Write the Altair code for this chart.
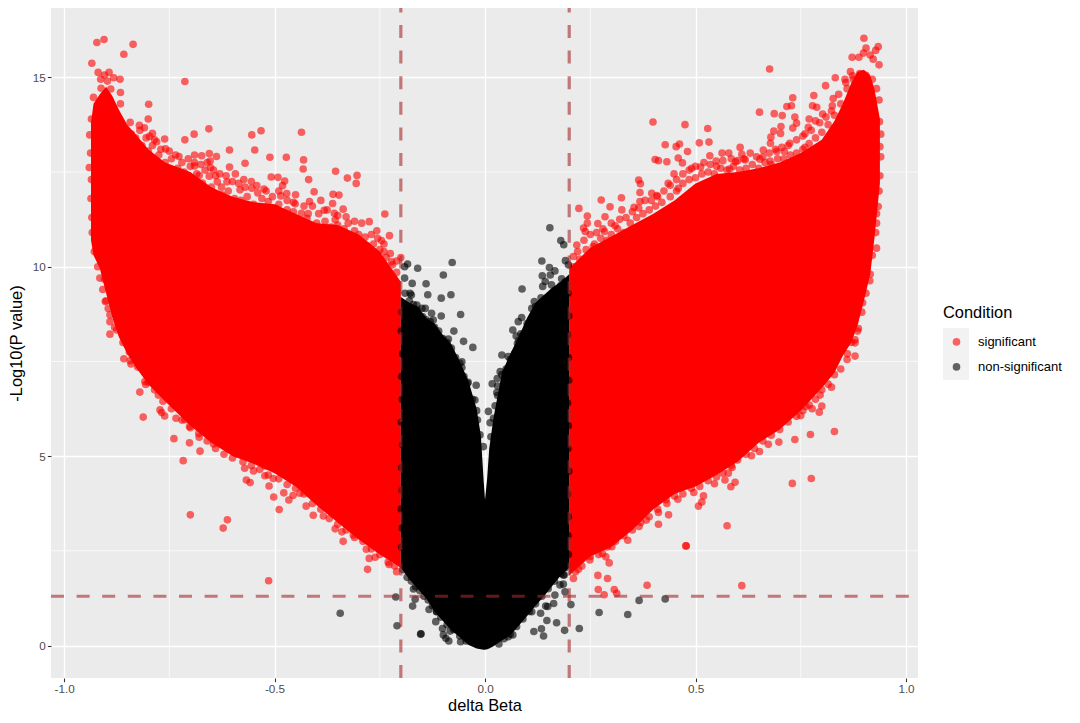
import altair as alt
import pandas as pd

X_DOMAIN = [-1.031, 1.0285]
Y_DOMAIN = [-0.858, 16.83]
x_ticks = [-1.0, -0.5, 0.0, 0.5, 1.0]
y_ticks = [0, 5, 10, 15]
x_minor = [-0.75, -0.25, 0.25, 0.75]
y_minor = [2.5, 7.5, 12.5]
v_cuts = [-0.2, 0.2]
h_cut = [1.3]

# Dense bodies of the cloud: outline
left_x = [-0.936,-0.93,-0.915,-0.90,-0.885,-0.87,-0.85,-0.83,-0.80,-0.76,-0.70,-0.65,-0.60,-0.55,-0.50,-0.45,-0.40,-0.35,-0.30,-0.25,-0.20]
left_hi = [13.8,14.3,14.55,14.75,14.5,14.15,13.75,13.5,13.1,12.75,12.5,12.1,11.85,11.7,11.65,11.4,11.15,11.1,10.85,10.4,9.6]
left_lo = [10.7,10.3,9.95,9.3,8.65,8.15,7.7,7.35,6.9,6.45,5.8,5.35,5.0,4.8,4.55,4.2,3.7,3.25,2.8,2.4,2.05]

right_x = [0.20,0.25,0.30,0.35,0.40,0.45,0.50,0.55,0.60,0.65,0.70,0.75,0.80,0.83,0.85,0.87,0.885,0.90,0.915,0.925,0.938]
right_hi = [9.95,10.5,10.8,11.1,11.4,11.75,12.2,12.45,12.5,12.6,12.75,13.0,13.35,13.85,14.3,14.85,15.15,15.2,15.05,14.7,13.9]
right_lo = [1.85,2.35,2.6,3.05,3.6,4.0,4.2,4.5,4.85,5.35,5.7,6.2,6.8,7.2,7.65,8.0,8.45,9.1,9.8,10.75,12.2]

mid_x = [-0.20,-0.18,-0.16,-0.14,-0.12,-0.10,-0.08,-0.06,-0.04,-0.02,-0.01,-0.003,0.0,0.005,0.01,0.02,0.04,0.06,0.08,0.10,0.12,0.14,0.16,0.18,0.20]
mid_hi = [9.2,9.05,8.95,8.65,8.5,8.2,7.95,7.5,7.0,6.25,5.55,4.3,3.85,4.4,5.2,6.0,7.2,7.7,8.15,8.65,9.05,9.25,9.45,9.6,9.8]
mid_lo = [2.05,1.75,1.5,1.25,0.9,0.65,0.4,0.22,0.02,-0.08,-0.1,-0.11,-0.11,-0.1,-0.08,-0.02,0.13,0.27,0.52,0.78,1.05,1.3,1.58,1.85,2.05]

# Individually visible points
red_left = [(-0.905,16.00),(-0.922,15.92),(-0.836,15.87),(-0.858,15.61),(-0.934,15.37),(-0.713,14.89),(-0.919,15.13),(-0.893,15.13),(-0.904,15.06),(-0.882,14.99),(-0.867,14.95),(-0.913,14.95),(-0.897,14.90),(-0.912,14.71),(-0.889,14.69),(-0.866,14.60),(-0.930,14.47),(-0.799,14.29),(-0.800,13.90),(-0.866,14.30),(-0.843,13.81),(-0.821,13.73),(-0.809,13.67),(-0.790,13.52),(-0.797,13.44),(-0.761,13.37),(-0.780,13.30),(-0.759,13.11),(-0.713,13.35),(-0.691,13.50),(-0.656,13.64),(-0.554,13.48),(-0.532,13.59),(-0.436,13.55),(-0.607,13.08),(-0.547,13.08),(-0.511,12.89),(-0.472,12.89),(-0.431,12.82),(-0.432,12.58),(-0.355,12.52),(-0.304,12.41),(-0.327,12.34),(-0.306,12.20),(-0.419,12.30),(-0.570,12.73),(-0.607,12.63),(-0.593,12.45),(-0.690,12.95),(-0.673,12.93),(-0.655,12.99),(-0.638,12.91),(-0.652,12.62),(-0.653,12.79),(-0.727,12.91),(-0.690,12.66),(-0.655,12.39),(-0.679,12.41),(-0.636,12.24),(-0.671,12.21),(-0.613,12.24),(-0.573,12.30),(-0.508,12.37),(-0.492,12.36),(-0.476,12.26),(-0.481,12.14),(-0.542,12.14),(-0.554,12.07),(-0.582,12.03),(-0.626,12.10),(-0.520,12.00),(-0.471,11.93),(-0.406,11.98),(-0.361,11.91),(-0.347,11.89),(-0.417,11.72),(-0.390,11.75),(-0.362,11.67),(-0.451,11.66),(-0.515,11.72),(-0.485,11.87),(-0.337,11.52),(-0.238,11.39),(-0.382,11.49),(-0.358,11.41),(-0.330,11.32),(-0.423,11.28),(-0.436,11.41),(-0.455,11.45),(-0.497,11.54),(-0.275,11.19),(-0.293,11.15),(-0.257,10.95),(-0.227,10.82),(-0.285,10.78),(-0.246,10.69),(-0.289,10.53),(-0.240,10.40),(-0.200,10.24),(-0.222,10.13),(-0.33,10.80),(-0.388,10.97),(-0.356,11.24),
 (-0.939,13.48),(-0.940,12.62),(-0.922,10.49),(-0.904,9.67),(-0.902,9.08),(-0.891,8.73),(-0.891,8.55),(-0.891,8.22),(-0.875,8.33),
 (-0.858,7.57),(-0.843,7.52),(-0.841,7.43),(-0.820,6.69),(-0.808,6.97),(-0.806,6.89),(-0.792,6.99),(-0.776,6.61),(-0.812,6.03),(-0.772,6.22),(-0.768,6.15),(-0.761,6.06),(-0.739,5.46),(-0.702,5.35),(-0.677,5.13),(-0.717,4.88),(-0.734,6.0),(-0.713,5.96),(-0.702,5.78),(-0.679,5.50),(-0.645,5.32),(-0.610,5.23),(-0.590,5.06),(-0.571,4.68),(-0.550,4.61),(-0.567,4.37),(-0.558,4.30),(-0.523,4.74),(-0.523,4.48),(-0.503,4.41),(-0.513,4.21),(-0.502,3.92),(-0.478,4.03),(-0.456,3.96),(-0.466,3.84),(-0.489,3.59),(-0.440,4.02),(-0.451,4.37),(-0.425,3.68),(-0.408,3.44),(-0.384,3.42),(-0.356,3.08),(-0.340,3.00),(-0.337,2.75),(-0.313,2.92),(-0.282,2.54),(-0.275,2.30),(-0.261,2.33),(-0.279,2.01),(-0.228,2.14),(-0.210,1.95),(-0.700,3.45),(-0.612,3.32),(-0.622,3.10),(-0.514,1.71)]

red_left_fringe = [(-0.84,13.5),(-0.83,13.4),(-0.815,13.2),(-0.80,13.05),(-0.79,13.2),(-0.775,12.95),(-0.76,12.75),(-0.745,12.85),(-0.73,12.6),(-0.715,12.5),(-0.70,12.65),(-0.685,12.45),(-0.665,12.55),(-0.65,12.1),(-0.64,12.4),(-0.625,11.9),(-0.61,12.0),(-0.595,11.8),(-0.58,11.75),(-0.565,11.85),(-0.55,11.65),(-0.53,11.8),(-0.51,11.55),(-0.49,11.65),(-0.47,11.5),(-0.455,11.7),(-0.44,11.2),(-0.42,11.4),(-0.40,11.15),(-0.38,11.2),(-0.365,11.05),(-0.35,11.1),(-0.335,11.0),(-0.31,10.95),(-0.30,10.85),(-0.28,10.55),(-0.265,10.6),(-0.25,10.45),(-0.235,10.25),(-0.22,10.05),(-0.21,9.85),
 (-0.82,13.6),(-0.805,13.4),(-0.785,13.35),(-0.77,13.1),(-0.75,13.05),(-0.735,12.95),(-0.72,12.75),(-0.705,12.85),(-0.69,12.75),(-0.675,12.7),(-0.66,12.75),(-0.645,12.55),(-0.63,12.45),(-0.615,12.4),(-0.60,12.25),(-0.585,12.2),(-0.57,12.1),(-0.555,12.25),(-0.54,11.95),(-0.525,12.05),(-0.505,11.85),(-0.49,12.0),(-0.47,11.75),(-0.45,11.9),(-0.43,11.6),(-0.41,11.6),(-0.395,11.4),(-0.375,11.5),(-0.35,11.35),(-0.325,11.15),(-0.31,11.2),(-0.27,10.85),(-0.255,10.75),(-0.24,10.6),(-0.225,10.35),(-0.21,10.15),
 (-0.88,8.4),(-0.86,8.0),(-0.845,7.75),(-0.825,7.35),(-0.80,6.95),(-0.785,6.75),(-0.765,6.45),(-0.745,6.25),(-0.72,5.95),(-0.70,5.75),(-0.68,5.6),(-0.66,5.4),(-0.64,5.2),(-0.62,5.05),(-0.60,4.95),(-0.575,4.85),(-0.555,4.75),(-0.535,4.65),(-0.515,4.5),(-0.49,4.4),(-0.47,4.25),(-0.45,4.15),(-0.43,4.0),(-0.41,3.75),(-0.39,3.6),(-0.37,3.35),(-0.35,3.2),(-0.33,3.05),(-0.31,2.85),(-0.29,2.75),(-0.27,2.55),(-0.25,2.4),(-0.23,2.2),(-0.215,2.1),
 (-0.935,13.9),(-0.937,13.0),(-0.935,12.3),(-0.936,11.8),(-0.934,11.3),(-0.933,10.9),(-0.928,10.4),(-0.92,10.0),(-0.915,9.7),(-0.908,9.4),(-0.90,9.1),(-0.895,8.9)]

red_right = [(0.210,1.77),(0.222,2.01),(0.249,2.26),(0.279,2.43),(0.287,2.34),(0.295,2.18),(0.268,1.85),(0.291,1.77),(0.269,1.48),(0.283,1.34),(0.307,1.48),(0.313,1.38),(0.385,1.59),(0.610,1.58),(0.477,2.63),(0.478,2.63),(0.339,2.78),(0.301,2.61),(0.329,3.00),(0.366,3.14),(0.383,3.31),(0.412,3.20),(0.436,3.45),(0.412,3.51),(0.432,3.75),(0.458,3.86),(0.496,4.04),(0.519,3.95),(0.515,3.79),(0.507,3.68),(0.575,3.16),(0.545,4.27),(0.584,4.19),(0.594,4.31),(0.570,4.37),(0.578,4.55),(0.587,4.70),(0.633,5.01),(0.652,5.12),(0.673,5.31),(0.698,5.37),(0.736,5.44),(0.773,5.57),(0.830,5.65),(0.730,4.28),(0.775,4.41),(0.750,6.07),(0.794,6.16),(0.800,6.32),(0.777,6.25),(0.762,6.31),(0.796,6.61),(0.823,6.82),(0.879,7.64),(0.861,7.70),(0.879,7.99),
 (0.900,16.03),(0.905,15.77),(0.934,15.81),(0.928,15.71),(0.899,15.64),(0.888,15.53),(0.872,15.53),(0.915,15.59),(0.922,15.48),(0.936,15.33),(0.868,15.15),(0.873,15.04),(0.832,14.99),(0.857,14.86),(0.809,14.78),(0.676,15.22),(0.781,14.52),(0.731,14.46),(0.827,14.44),(0.778,14.25),(0.788,14.21),(0.728,14.25),(0.717,14.23),(0.652,14.08),(0.687,14.04),(0.706,13.99),(0.736,13.95),(0.802,14.03),(0.823,14.11),(0.770,13.90),(0.785,13.85),(0.740,13.79),(0.731,13.66),(0.703,13.70),(0.686,13.58),(0.702,13.52),(0.679,13.42),(0.678,13.26),(0.760,13.51),(0.768,13.68),(0.399,13.82),(0.475,13.75),(0.529,13.65),(0.532,13.29),(0.509,13.27),(0.428,13.22),(0.462,13.24),(0.454,13.17),(0.481,13.04),(0.459,12.87),(0.404,12.83),(0.412,12.80),(0.432,12.77),(0.469,12.74),(0.512,12.63),(0.491,12.60),(0.534,12.93),(0.563,13.00),(0.579,13.00),(0.606,13.15),(0.610,12.97),(0.661,13.08),(0.581,12.58),(0.549,12.79),(0.595,12.77),(0.618,12.82),(0.653,12.84),(0.677,12.79),(0.693,13.04),(0.711,13.04),(0.724,13.26),(0.760,13.15),(0.365,12.29),(0.369,12.19),(0.368,11.96),(0.276,11.76),(0.297,11.58),(0.324,11.82),(0.325,11.50),(0.223,11.54),(0.243,11.34),(0.285,11.32),(0.268,11.14),(0.234,11.02),(0.243,11.15),(0.238,10.93),(0.284,10.93),(0.309,11.08),(0.354,11.57),(0.368,11.72),(0.396,11.94),(0.408,11.88),(0.435,12.20),(0.459,12.07),(0.449,12.45),(0.218,10.57),(0.257,10.53),(0.210,10.27),(0.930,10.49),(0.914,9.63),(0.937,13.83),(0.938,13.17),(0.934,11.59),(0.930,11.15),(0.879,8.07),(0.887,8.37),(0.897,9.05)]

red_right_fringe = [(0.21,10.0),(0.225,10.2),(0.24,10.45),(0.26,10.6),(0.275,10.75),(0.29,10.7),(0.30,10.85),(0.315,11.0),(0.33,10.9),(0.345,11.15),(0.36,11.3),(0.375,11.4),(0.39,11.5),(0.405,11.6),(0.42,11.7),(0.44,11.85),(0.455,12.0),(0.47,12.2),(0.485,12.3),(0.50,12.35),(0.515,12.45),(0.53,12.5),(0.545,12.45),(0.56,12.6),(0.575,12.55),(0.59,12.65),(0.605,12.55),(0.62,12.6),(0.635,12.7),(0.65,12.6),(0.665,12.75),(0.68,12.7),(0.695,12.85),(0.71,12.85),(0.725,12.95),(0.74,13.0),(0.755,13.1),(0.77,13.25),(0.785,13.4),(0.80,13.55),(0.815,13.75),(0.83,14.0),(0.845,14.3),(0.86,14.7),(0.875,14.95),(0.89,15.1),(0.905,15.05),(0.92,14.95),(0.93,14.7),(0.936,14.4),(0.94,13.5),(0.94,12.9),(0.938,12.4),(0.936,12.0),(0.93,11.4),(0.928,10.9),(0.92,10.3),(0.915,9.8),(0.905,9.3),(0.895,8.8),(0.885,8.3),(0.87,8.0),
 (0.22,10.4),(0.235,10.7),(0.25,10.85),(0.265,10.9),(0.28,11.0),(0.30,11.15),(0.32,11.25),(0.335,11.3),(0.35,11.45),(0.365,11.55),(0.38,11.75),(0.395,11.75),(0.41,11.85),(0.425,12.0),(0.44,12.15),(0.455,12.3),(0.47,12.45),(0.485,12.55),(0.50,12.65),(0.52,12.75),(0.535,12.7),(0.55,12.65),(0.565,12.8),(0.585,12.85),(0.60,12.8),(0.615,12.85),(0.63,13.0),(0.645,12.9),(0.66,12.9),(0.675,13.0),(0.69,13.1),(0.705,13.15),(0.72,13.2),(0.74,13.35),(0.755,13.45),(0.775,13.6),(0.795,13.8),(0.81,13.95),(0.825,14.25),(0.84,14.55),(0.855,14.95),
 (0.86,7.55),(0.845,7.3),(0.83,7.15),(0.815,6.9),(0.80,6.75),(0.785,6.5),(0.77,6.35),(0.755,6.2),(0.74,6.05),(0.72,5.9),(0.70,5.7),(0.68,5.55),(0.66,5.4),(0.64,5.2),(0.62,5.05),(0.60,4.9),(0.585,4.75),(0.565,4.55),(0.55,4.45),(0.53,4.35),(0.51,4.2),(0.49,4.15),(0.47,4.0),(0.45,3.95),(0.43,3.85),(0.41,3.6),(0.39,3.4),(0.37,3.25),(0.35,3.05),(0.33,2.9),(0.31,2.75),(0.29,2.6),(0.27,2.4),(0.25,2.35),(0.23,2.1),(0.215,1.95)]

black_pts = [(-0.344,0.85),(-0.212,1.28),(-0.209,0.52),(-0.184,10.07),(-0.191,10.0),(-0.160,9.96),(-0.078,10.11),(-0.099,9.78),(-0.191,9.70),(-0.173,9.56),(-0.140,9.55),(-0.136,9.26),(-0.178,9.3),(-0.175,9.25),(-0.104,9.17),(-0.081,9.26),(-0.162,8.99),(-0.142,8.90),(-0.127,8.77),(-0.148,8.68),(-0.104,8.70),(-0.058,8.74),(-0.123,8.59),(-0.074,8.30),(-0.087,8.09),(-0.051,8.03),(-0.029,7.87),(-0.055,7.49),(-0.055,7.34),(-0.042,6.92),(-0.021,6.87),(-0.024,6.48),(-0.018,5.95),(-0.012,5.56),(-0.004,5.25),
 (0.154,11.03),(0.180,10.69),(0.187,10.58),(0.135,10.15),(0.191,10.16),(0.198,10.05),(0.153,9.98),(0.166,9.89),(0.136,9.76),(0.155,9.78),(0.182,9.68),(0.143,9.61),(0.137,9.48),(0.158,9.52),(0.088,9.41),(0.186,9.43),(0.117,9.08),(0.133,9.18),(0.145,9.04),(0.111,8.90),(0.087,8.66),(0.079,8.55),(0.066,8.33),(0.085,8.23),(0.074,8.17),(0.077,7.97),(0.040,7.67),(0.055,7.63),(0.036,7.23),(0.029,7.05),(0.017,6.91),(0.030,6.85),(0.028,6.68),(0.024,6.33),(0.008,6.18),(0.012,5.88),(0.014,5.51),
 (-0.170,1.49),(-0.166,1.22),(-0.172,1.04),(-0.133,0.95),(-0.115,0.89),(-0.117,0.63),(-0.153,0.30),(-0.152,0.31),(-0.101,0.45),(-0.083,0.38),(-0.099,0.28),(-0.093,0.19),(-0.086,0.12),(-0.058,0.10),(0.033,0.04),(0.066,0.28),(0.055,0.23),(0.116,0.37),(0.134,0.44),(0.139,0.25),(0.147,0.66),(0.170,0.60),(0.189,0.40),(0.224,0.45),(0.271,0.87),(0.132,0.85),(0.149,1.03),(0.163,1.11),(0.144,1.04),(0.166,1.33),(0.204,1.08),(0.190,1.42),(0.178,1.60),(0.186,1.86),(0.111,0.89),(0.339,0.82),(0.366,1.19),(0.428,1.23),(0.186,1.62),(0.188,1.86),
 # bumps along the two cut lines
 (-0.197,8.8),(-0.199,8.3),(-0.196,7.7),(-0.198,7.1),(-0.197,6.5),(-0.199,5.9),(-0.196,5.3),(-0.198,4.7),(-0.197,4.1),(-0.199,3.6),(-0.197,3.1),(-0.198,2.6),
 (0.197,9.3),(0.199,8.7),(0.196,8.2),(0.198,7.6),(0.199,7.0),(0.196,6.4),(0.198,5.8),(0.197,5.2),(0.199,4.6),(0.196,4.0),(0.198,3.4),(0.197,2.9),(0.198,2.4),
 # fringe around the dense V
 (-0.19,9.3),(-0.18,9.1),(-0.17,9.0),(-0.16,8.85),(-0.15,8.9),(-0.14,8.6),(-0.13,8.55),(-0.12,8.4),(-0.11,8.3),(-0.10,8.1),(-0.09,8.0),(-0.08,7.85),(-0.07,7.6),(-0.06,7.45),(-0.05,7.1),(-0.04,6.95),(-0.03,6.5),(-0.02,6.2),
 (0.19,9.6),(0.18,9.5),(0.17,9.4),(0.16,9.3),(0.15,9.2),(0.14,9.1),(0.13,9.0),(0.12,8.95),(0.11,8.6),(0.10,8.5),(0.09,8.2),(0.08,8.05),(0.07,7.7),(0.06,7.55),(0.05,7.3),(0.04,7.15),(0.03,6.6),(0.02,6.0),
 (-0.195,2.0),(-0.185,1.8),(-0.175,1.7),(-0.165,1.55),(-0.155,1.45),(-0.145,1.3),(-0.135,1.2),(-0.125,1.05),(-0.115,0.9),(-0.105,0.75),(-0.09,0.55),(-0.075,0.42),(-0.06,0.25),(-0.045,0.12),(0.045,0.18),(0.06,0.3),(0.075,0.5),(0.09,0.7),(0.105,0.9),(0.12,1.1),(0.135,1.3),(0.15,1.5),(0.165,1.7),(0.18,1.9),(0.19,2.05)]

xs = alt.Scale(domain=X_DOMAIN, nice=False, zero=False)
ys = alt.Scale(domain=Y_DOMAIN, nice=False, zero=False)
FONT = "Liberation Sans"
x_axis = alt.Axis(values=x_ticks, title="delta Beta", domain=False,
                  labelExpr="datum.value < 0 ? '-' + format(-datum.value, '.1f') : format(datum.value, '.1f')",
                  grid=True, gridColor="white", gridWidth=1.4,
                  tickColor="#333333", tickWidth=1.07, tickSize=3.65,
                  labelColor="#4D4D4D", labelFontSize=11.7, labelPadding=2, labelFont=FONT,
                  titleFontSize=16.4, titleColor="black", titleFontWeight="normal", titleFont=FONT, titlePadding=2)
y_axis = alt.Axis(values=y_ticks, title="-Log10(P value)", domain=False, format="d",
                  grid=True, gridColor="white", gridWidth=1.4,
                  tickColor="#333333", tickWidth=1.07, tickSize=3.65,
                  labelColor="#4D4D4D", labelFontSize=11.7, labelPadding=2, labelFont=FONT,
                  titleFontSize=16.4, titleColor="black", titleFontWeight="normal", titleFont=FONT, titlePadding=8)


def X(f):
    return alt.X(f, type="quantitative", scale=xs, axis=x_axis)


def Y(f):
    return alt.Y(f, type="quantitative", scale=ys, axis=y_axis)


minor_v = alt.Chart(pd.DataFrame({"x": x_minor})).mark_rule(color="white", strokeWidth=0.7).encode(x=X("x"))
minor_h = alt.Chart(pd.DataFrame({"y": y_minor})).mark_rule(color="white", strokeWidth=0.7).encode(y=Y("y"))


def body(xv, hi, lo, col):
    d = pd.DataFrame({"x": xv, "hi": hi, "lo": lo})
    return alt.Chart(d).mark_area(color=col, opacity=1, interpolate="linear").encode(
        x=X("x"), y=Y("hi"), y2=alt.Y2("lo"))


def points(pts, name):
    d = pd.DataFrame(pts, columns=["x", "y"])
    d["Condition"] = name
    return alt.Chart(d).mark_circle(size=58, opacity=0.6).encode(
        x=X("x"), y=Y("y"),
        color=alt.Color("Condition:N",
                        scale=alt.Scale(domain=["significant", "non-significant"], range=["#FF0000", "#000000"]),
                        legend=alt.Legend(orient="none", legendX=892, legendY=297, title="Condition",
                                          titleFontSize=16.4, titleColor="black", titleFontWeight="normal",
                                          titleFont=FONT, titlePadding=14,
                                          labelFontSize=13, labelColor="black", labelFont=FONT,
                                          symbolSize=58, symbolOffset=7, labelOffset=15,
                                          rowPadding=11, symbolStrokeWidth=0)))


key_bg = alt.Chart(pd.DataFrame({"a": [0]})).mark_rect(color="#F2F2F2").encode(
    x=alt.value(892), x2=alt.value(918), y=alt.value(320), y2=alt.value(372))

v_df = pd.DataFrame({"x": v_cuts, "y0": [Y_DOMAIN[0]] * 2, "y1": [Y_DOMAIN[1]] * 2})
h_df = pd.DataFrame({"y": h_cut, "x0": [X_DOMAIN[0]], "x1": [X_DOMAIN[1]]})
line_style = dict(color="#A52A2A", opacity=0.6, strokeWidth=3.2, strokeDash=[13, 12.6])
v_rules = alt.Chart(v_df).mark_rule(**line_style).encode(x=X("x"), y=Y("y0"), y2=alt.Y2("y1"))
h_rules = alt.Chart(h_df).mark_rule(**line_style).encode(x=X("x0"), x2=alt.X2("x1"), y=Y("y"))

chart = alt.layer(
    minor_v, minor_h,
    body(left_x, left_hi, left_lo, "#FF0000"),
    body(right_x, right_hi, right_lo, "#FF0000"),
    points(red_left + red_left_fringe + red_right + red_right_fringe, "significant"),
    body(mid_x, mid_hi, mid_lo, "#000000"),
    points(black_pts, "non-significant"),
    v_rules, h_rules, key_bg,
).properties(
    width=867, height=670, background="white",
    autosize=alt.AutoSizeParams(type="none"),
    padding={"left": 43, "top": 0, "right": 154, "bottom": 37},
).configure_view(fill="#EBEBEB", stroke=None)

chart.save("out.html", embed_options={"renderer": "svg", "actions": False})
